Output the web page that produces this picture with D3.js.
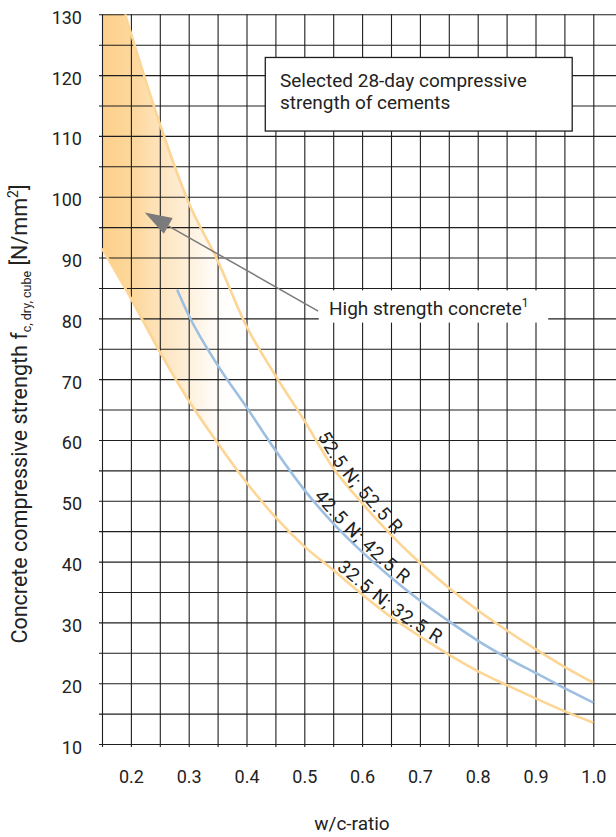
<!DOCTYPE html>
<html><head><meta charset="utf-8">
<script src="https://cdn.jsdelivr.net/npm/d3@7"></script>
<style>
html,body{margin:0;padding:0;background:#fff;}
svg{display:block;font-family:Roboto, "Liberation Sans", sans-serif;}
</style></head>
<body>
<svg id="chart" width="616" height="837"></svg>
<script>
// ---- data ----
const upperX = [0.19,0.25,0.30,0.35,0.40,0.45,0.50,0.55,0.60,0.65,0.70,0.75,0.80,0.85,0.90,0.95,1.00];
const upperY = [130,112,99,89.5,78.7,70.6,63.2,55.4,49.6,44.4,39.8,35.7,32.0,28.7,25.6,22.7,20.1];
const midX   = [0.28,0.30,0.35,0.40,0.45,0.50,0.55,0.60,0.65,0.70,0.75,0.80,0.85,0.90,0.95,1.00];
const midY   = [84.7,80.5,72.3,65.4,58.3,51.8,46.3,41.6,37.4,33.6,30.2,27.0,24.2,21.7,19.2,16.8];
const lowerX = [0.15,0.20,0.25,0.30,0.35,0.40,0.45,0.50,0.55,0.60,0.65,0.70,0.75,0.80,0.85,0.90,0.95,1.00];
const lowerY = [91.5,83.3,74.5,66.5,59.5,53.0,47.3,42.5,38.6,34.6,30.9,27.7,24.7,22.0,19.7,17.5,15.4,13.5];
const curveLabels = ["52.5 N; 52.5 R","42.5 N; 42.5 R","32.5 N; 32.5 R"];
const curveLabelStart = [0.518,0.512,0.552];
const xTickLabels = [0.2,0.3,0.4,0.5,0.6,0.7,0.8,0.9,1.0];
const yTickLabels = [10,20,30,40,50,60,70,80,90,100,110,120,130];
const legendLines = ["Selected 28-day compressive","strength of cements"];
const annotationText = "High strength concrete";
const arrowFrom = [0.524,81.2];
const arrowTo = [0.224,97.4];

// ---- scales ----
const svg = d3.select("#chart");
const xs = d3.scaleLinear().domain([0.15,1.0]).range([102,593.3]);
const ys = d3.scaleLinear().domain([10,130]).range([744,14.3]);
const orange = "#fdd594", blue = "#9dbfe1", ink = "#222";

const pts = (X,Y)=>X.map((x,i)=>[x,Y[i]]);
const upper = pts(upperX,upperY), mid = pts(midX,midY), lower = pts(lowerX,lowerY);
const line = d3.line().x(d=>xs(d[0])).y(d=>ys(d[1])).curve(d3.curveMonotoneX);

// ---- gradient fill (high strength region) ----
const defs = svg.append("defs");
const grad = defs.append("linearGradient").attr("id","hs").attr("gradientUnits","userSpaceOnUse")
  .attr("x1",xs(0.15)).attr("x2",xs(0.39)).attr("y1",0).attr("y2",0);
grad.append("stop").attr("offset",0).attr("stop-color","#fdd08b").attr("stop-opacity",1);
grad.append("stop").attr("offset",0.25).attr("stop-color","#fdd596").attr("stop-opacity",0.92);
grad.append("stop").attr("offset",0.6).attr("stop-color","#fde2ba").attr("stop-opacity",0.6);
grad.append("stop").attr("offset",1).attr("stop-color","#ffffff").attr("stop-opacity",0);
const upSeg = upper.filter(d=>d[0]<=0.45);
const loSeg = lower.filter(d=>d[0]<=0.45).slice().reverse();
const upPath = line(upSeg);
const loRev = line(loSeg);
svg.append("path")
  .attr("d", "M"+xs(0.15)+","+ys(130)+"L"+upPath.slice(1)+"L"+loRev.slice(1)+"Z")
  .attr("fill","url(#hs)");

// ---- grid via axes ----
const hGrid = d3.range(10,131,5);
const vGrid = d3.range(15,101,5).map(v=>v/100);
svg.append("g").attr("transform","translate(99,0)")
  .call(d3.axisLeft(ys).tickValues(hGrid).tickSize(-(616-99)).tickFormat("").tickSizeOuter(0))
  .call(g=>g.select(".domain").remove())
  .call(g=>g.selectAll(".tick line").attr("stroke","#1e1e1e").attr("stroke-width",1.1));
svg.append("g").attr("transform","translate(0,747)")
  .call(d3.axisBottom(xs).tickValues(vGrid).tickSize(-(747-ys(130))).tickFormat("").tickSizeOuter(0))
  .call(g=>g.select(".domain").remove())
  .call(g=>g.selectAll(".tick line").attr("stroke","#1e1e1e").attr("stroke-width",1.1));

// ---- tick labels via axes ----
svg.append("g").attr("transform","translate(102,0)")
  .call(d3.axisLeft(ys).tickValues(yTickLabels).tickSize(0).tickPadding(20))
  .call(g=>g.select(".domain").remove())
  .call(g=>g.selectAll("text").attr("font-size",18).attr("fill",ink).attr("dy","0.5em")
     .attr("font-family","Roboto, sans-serif"));
svg.append("g").attr("transform","translate(0,744)")
  .call(d3.axisBottom(xs).tickValues(xTickLabels).tickSize(0).tickPadding(26).tickFormat(d3.format(".1f")))
  .call(g=>g.select(".domain").remove())
  .call(g=>g.selectAll("text").attr("font-size",18).attr("fill",ink)
     .attr("font-family","Roboto, sans-serif"));

// ---- curves ----
const curves = [upper, mid, lower];
const colors = [orange, blue, orange];
const paths = curves.map((c,i)=>svg.append("path").attr("id","c"+i).attr("d",line(c))
  .attr("fill","none").attr("stroke",colors[i]).attr("stroke-width",2.6));

// ---- curve labels on path ----
paths.forEach((p,i)=>{
  const node = p.node(); const total = node.getTotalLength();
  const target = xs(curveLabelStart[i]);
  let lo=0, hi=total;
  for(let k=0;k<40;k++){const m=(lo+hi)/2; if(node.getPointAtLength(m).x<target) lo=m; else hi=m;}
  svg.append("text").attr("font-size",18.5).attr("fill",ink).attr("dy",-3)
    .attr("letter-spacing",0.9)
    .attr("font-family","Roboto, sans-serif")
    .append("textPath").attr("href","#c"+i).attr("startOffset",lo).text(curveLabels[i]);
});

// ---- arrow ----
const ax0 = xs(arrowFrom[0]), ay0 = ys(arrowFrom[1]), ax1 = xs(arrowTo[0]), ay1 = ys(arrowTo[1]);
const ang = Math.atan2(ay0-ay1, ax0-ax1);
const L = 27, W = 9;
const bx = ax1 + L*Math.cos(ang), by = ay1 + L*Math.sin(ang);
svg.append("line").attr("x1",ax0).attr("y1",ay0).attr("x2",bx).attr("y2",by)
  .attr("stroke","#7b7b7b").attr("stroke-width",1.5);
svg.append("path").attr("d",`M${ax1},${ay1}L${bx - W*Math.sin(ang)},${by + W*Math.cos(ang)}L${bx + W*Math.sin(ang)},${by - W*Math.cos(ang)}Z`)
  .attr("fill","#7b7b7b");

// ---- annotation label box ----
svg.append("rect").attr("x",xs(0.525)).attr("y",ys(84.6)).attr("width",xs(0.922)-xs(0.525))
  .attr("height",ys(79.3)-ys(84.6)).attr("fill","#fff");
const at = svg.append("text").attr("x",329).attr("y",315).attr("font-size",19).attr("fill",ink)
  .attr("font-family","Roboto, sans-serif");
at.append("tspan").text(annotationText);
at.append("tspan").attr("font-size",12).attr("dy",-8).text("1");

// ---- legend box ----
svg.append("rect").attr("x",xs(0.4325)).attr("y",ys(122.9)).attr("width",xs(0.9635)-xs(0.4325))
  .attr("height",ys(110.8)-ys(122.9)).attr("fill","#fff").attr("stroke","#1e1e1e").attr("stroke-width",1.3);
legendLines.forEach((t,i)=>svg.append("text").attr("x",280).attr("y",87+i*21.5)
  .attr("font-size",19).attr("fill",ink).attr("font-family","Roboto, sans-serif").text(t));

// ---- axis titles ----
svg.append("text").attr("x",352).attr("y",830).attr("text-anchor","middle").attr("font-size",19)
  .attr("fill",ink).attr("font-family","Roboto, sans-serif").text("w/c-ratio");
const yt = svg.append("text").attr("transform","translate(27,414) rotate(-90)").attr("text-anchor","middle")
  .attr("font-size",21.5).attr("fill",ink).attr("font-family","Roboto, sans-serif");
yt.append("tspan").text("Concrete compressive strength f");
yt.append("tspan").attr("font-size",12.5).attr("dy",4).text("c, dry, cube");
yt.append("tspan").attr("dy",-4).text(" [N/mm");
yt.append("tspan").attr("font-size",14).attr("dy",-9).text("2");
yt.append("tspan").attr("dy",9).text("]");
</script>
</body></html>
